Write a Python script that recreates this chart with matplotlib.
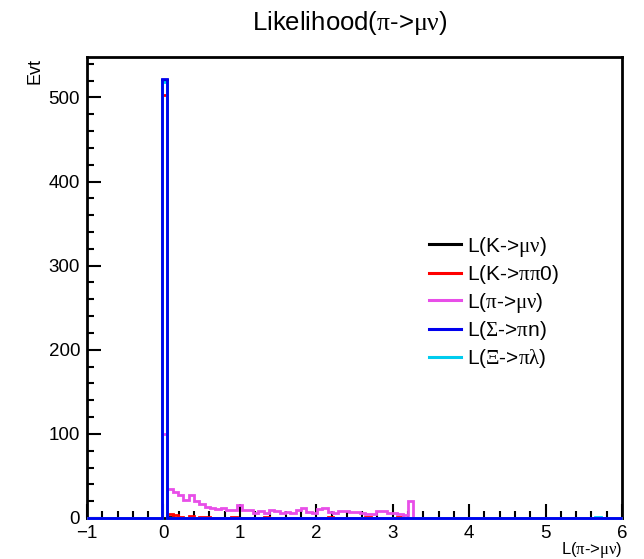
import numpy as np
import matplotlib
matplotlib.use("Agg")
import matplotlib.pyplot as plt
from matplotlib.ticker import MultipleLocator
from matplotlib.lines import Line2D

plt.rcParams['font.family'] = ['Liberation Sans', 'DejaVu Sans']
plt.rcParams['mathtext.fontset'] = 'custom'
plt.rcParams['mathtext.rm'] = 'Liberation Serif'
plt.rcParams['mathtext.it'] = 'Liberation Serif:italic'
plt.rcParams['mathtext.default'] = 'rm'

# 100 bins between -1 and 6
x_min, x_max, n_bins = -1.0, 6.0, 100
spike_bin = 14

# counts of the non-empty bins, keyed by bin index
k_mu_nu = {14: 521, 15: 1}
k_pipi0 = {14: 503, 15: 5, 16: 4, 17: 1, 19: 2, 21: 1, 22: 1, 27: 1,
           33: 1, 45: 1, 52: 1, 58: 1}
pi_mu_nu = [100, 35, 31, 27, 21, 27, 20, 17, 13, 12, 11, 12, 9, 10, 15, 9,
            10, 6, 8, 6, 9, 8, 6, 7, 6, 9, 12, 7, 6, 11, 12, 7, 6, 8, 8,
            7, 7, 6, 5, 5, 8, 8, 6, 6, 5, 4, 20]   # bins 14..60
sigma_pi_n = {14: 522}
xi_pi_lambda = {14: 518, 95: 1}

labels = [r'L(K->$\mu\nu$)', r'L(K->$\pi\pi$0)', r'L($\pi$->$\mu\nu$)',
          r'L($\Sigma$->$\pi$n)', r'L($\Xi$->$\pi\lambda$)']
colors = ['black', '#ff0000', '#e84ee8', '#0000ee', '#00ccee']


def to_counts(d):
    c = np.zeros(n_bins)
    for k, v in d.items():
        c[k] = v
    return c


edges = np.linspace(x_min, x_max, n_bins + 1)
pi_counts = np.zeros(n_bins)
pi_counts[spike_bin:spike_bin + len(pi_mu_nu)] = pi_mu_nu

hists = [to_counts(k_mu_nu), to_counts(k_pipi0), pi_counts,
         to_counts(sigma_pi_n), to_counts(xi_pi_lambda)]
# cyan goes under the blue one
draw_order = [0, 1, 2, 4, 3]

fig = plt.figure(figsize=(6.44, 5.59), dpi=100)
ax = fig.add_axes([87 / 644, 1 - 518 / 559, 535 / 644, 461 / 559])

for z, i in enumerate(draw_order):
    ax.stairs(hists[i], edges, color=colors[i], lw=2, clip_on=False, zorder=3 + z)

ax.set_xlim(x_min, x_max)
ax.set_ylim(0, 548)
ax.xaxis.set_major_locator(MultipleLocator(1))
ax.xaxis.set_minor_locator(MultipleLocator(0.2))
ax.yaxis.set_major_locator(MultipleLocator(100))
ax.yaxis.set_minor_locator(MultipleLocator(20))
ax.tick_params(which='both', direction='in', width=1.5, labelsize=13.5,
               top=False, right=False)
ax.tick_params(which='major', length=10)
ax.tick_params(which='minor', length=5)
ax.tick_params(axis='y', pad=5)
ax.tick_params(axis='x', pad=5)
for s in ax.spines.values():
    s.set_linewidth(2)

fig.text(0.543, 1 - 23 / 559, r'Likelihood($\pi$->$\mu\nu$)', ha='center',
         va='center', fontsize=18.5)
fig.text(622 / 644, 1 - 549.5 / 559, r'L($\pi$->$\mu\nu$)', ha='right',
         va='center', fontsize=12)
fig.text(35 / 644, 1 - 58 / 559, 'Evt', ha='center', va='top', rotation=90,
         fontsize=13)

handles = [Line2D([], [], color=c, lw=2.2) for c in colors]
fig.legend(handles, labels, loc='upper left',
           bbox_to_anchor=(414 / 644, 1 - 220 / 559), frameon=False,
           fontsize=15, handlelength=1.55, handletextpad=0.3,
           labelspacing=0.22, borderpad=0.2)

fig.savefig('out.png', dpi=100)
